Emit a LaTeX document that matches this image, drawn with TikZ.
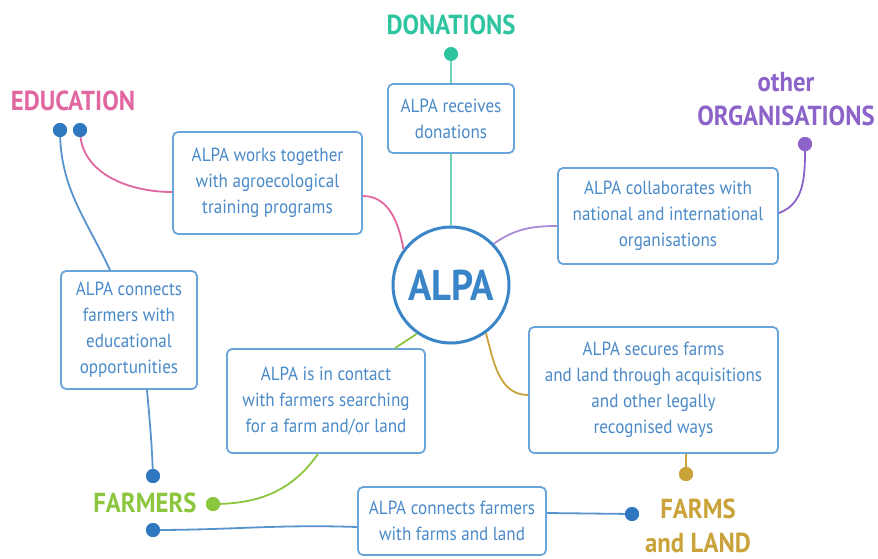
\documentclass[tikz,border=0pt]{standalone}
\usepackage{fontspec}
\setmainfont{PT Sans}[FakeStretch=0.9]
\definecolor{boxc}{HTML}{6AA5DA}
\definecolor{txtc}{HTML}{4A8AC8}
\definecolor{alpac}{HTML}{3A85C8}
\definecolor{dotb}{HTML}{2F78C0}
\definecolor{pinkc}{HTML}{E0679F}
\definecolor{tealc}{HTML}{2EC4A0}
\definecolor{teall}{HTML}{6FD3BC}
\definecolor{greenc}{HTML}{8CC63E}
\definecolor{goldc}{HTML}{C9A23A}
\definecolor{purpc}{HTML}{8C63C8}
\begin{document}
\begin{tikzpicture}[x=1pt,y=1pt,
  infobox/.style={draw=boxc, line width=1.8pt, rounded corners=5pt, fill=white,
    text=txtc, align=center, inner sep=0pt,
    font=\fontsize{19}{26}\selectfont},
  lab/.style={font=\bfseries\fontsize{27.5}{34}\selectfont, align=center, inner sep=0pt},
  dotn/.style={circle, fill=#1, inner sep=0pt, minimum size=14pt},
  conn/.style={line width=1.8pt, #1}
]
\useasboundingbox (0,0) rectangle (878,-558);

% central node
\node[circle, draw=alpac, line width=3pt, minimum size=116pt, inner sep=0pt,
  text=alpac, font=\bfseries\fontsize{43}{48}\selectfont] (alpa) at (451,-285) {ALPA};

% boxes
\node[infobox, minimum width=126pt, minimum height=69pt] (don) at (451,-118.5) {ALPA receives\\donations};
\node[infobox, minimum width=189pt, minimum height=102pt] (work) at (267.5,-183) {ALPA works together\\with agroecological\\training programs};
\node[infobox, minimum width=136pt, minimum height=118pt] (opp) at (129,-330) {ALPA connects\\farmers with\\educational\\opportunities};
\node[infobox, minimum width=198pt, minimum height=104pt] (contact) at (326,-401) {ALPA is in contact\\with farmers searching\\for a farm and/or land};
\node[infobox, minimum width=188pt, minimum height=68pt] (farmland) at (452,-521) {ALPA connects farmers\\with farms and land};
\node[infobox, minimum width=249pt, minimum height=126pt] (secure) at (653.5,-390) {ALPA secures farms\\and land through acquisitions\\and other legally\\recognised ways};
\node[infobox, minimum width=220pt, minimum height=96pt] (collab) at (668,-216) {ALPA collaborates with\\national and international\\organisations};

% labels
\node[lab, text=tealc] (donl) at (451,-25) {DONATIONS};
\node[lab, text=pinkc] (edul) at (73,-101) {EDUCATION};
\node[lab, text=greenc] (farml) at (145,-503) {FARMERS};
\node[lab, text=goldc] (fll) at (698,-526) {FARMS\\and LAND};
\node[lab, text=purpc] (orgl) at (786,-99) {other\\ORGANISATIONS};

% dots
\node[dotn=tealc, minimum size=13pt] (dt) at (451,-54) {};
\node[dotn=dotb] (de1) at (60,-130) {};
\node[dotn=dotb] (de2) at (80,-130) {};
\node[dotn=dotb] (df1) at (153,-476) {};
\node[dotn=greenc] (dg) at (213,-504) {};
\node[dotn=dotb] (df2) at (153,-530) {};
\node[dotn=dotb] (dfl) at (632,-514) {};
\node[dotn=goldc] (dgo) at (686,-474) {};
\node[dotn=purpc] (dp) at (805,-144) {};

% connectors
\draw[conn=teall] (dt) -- (don.north);
\draw[conn=teall] (don.south) -- (alpa.north);
\draw[conn=pinkc] (de2.center) to[out=-90,in=180] ([yshift=-9pt]work.west);
\draw[conn=pinkc] ([yshift=-13pt]work.east) to[out=0,in=100] (alpa.143);
\draw[conn=dotb!80] (de1.center) to[out=-90,in=115] ([xshift=-19pt]opp.north);
\draw[conn=dotb!80] ([xshift=18pt]opp.south) to[out=-85,in=92] (df1.center);
\draw[conn=greenc] (dg.center) to[out=0,in=-125] ([xshift=-8pt]contact.south);
\draw[conn=greenc] ([xshift=69pt]contact.north) -- (alpa.235);
\draw[conn=dotb!80] (df2.center) to[out=0,in=178] ([yshift=-6pt]farmland.west);
\draw[conn=dotb!80] ([yshift=8pt]farmland.east) -- (dfl.center);
\draw[conn=goldc] (alpa.-54) to[out=-75,in=180] ([yshift=-5pt]secure.west);
\draw[conn=goldc] ([xshift=32.5pt]secure.south) -- (dgo.center);
\draw[conn=purpc!75] (alpa.44) to[out=35,in=180] ([yshift=-10pt]collab.west);
\draw[conn=purpc] ([yshift=3pt]collab.east) to[out=20,in=-90] (dp.center);

% redraw dots on top
\foreach \d/\c in {dt/tealc,de1/dotb,de2/dotb,df1/dotb,dg/greenc,df2/dotb,dfl/dotb,dgo/goldc,dp/purpc}
  \fill[\c] (\d) circle (7pt);
\end{tikzpicture}
\end{document}
